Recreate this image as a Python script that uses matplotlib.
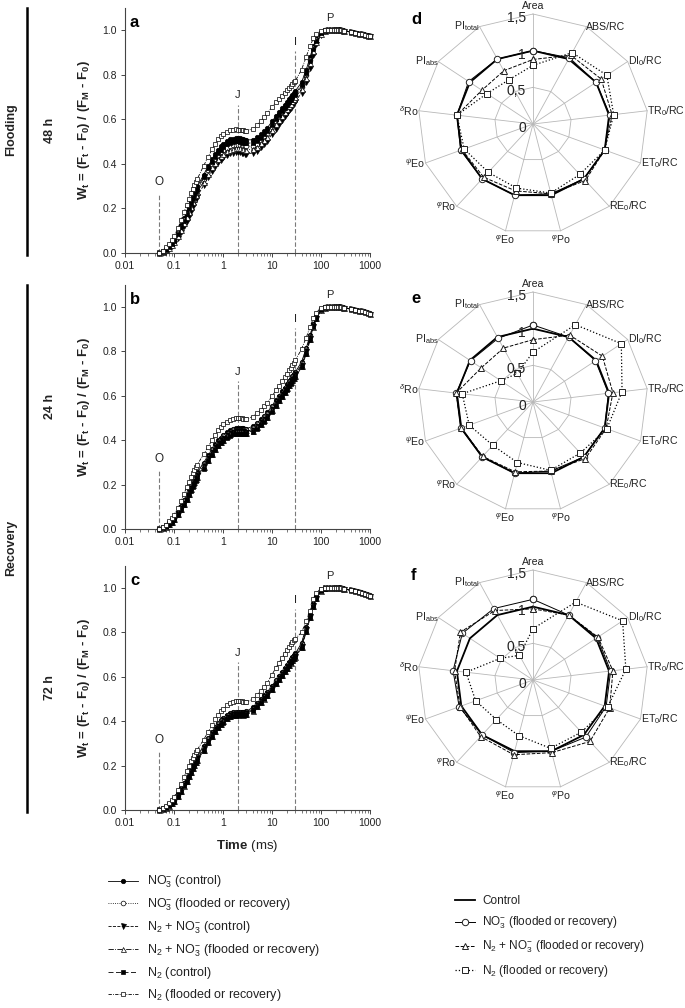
import numpy as np
import matplotlib
matplotlib.use('Agg')
import matplotlib.pyplot as plt
from matplotlib.lines import Line2D
import matplotlib.transforms as mtransforms

plt.rcParams['font.family'] = ['Liberation Sans', 'DejaVu Sans']
plt.rcParams['mathtext.fontset'] = 'custom'
plt.rcParams['mathtext.rm'] = 'Liberation Sans'
plt.rcParams['mathtext.it'] = 'Liberation Sans:italic'
plt.rcParams['mathtext.bf'] = 'Liberation Sans:bold'
plt.rcParams['mathtext.sf'] = 'Liberation Sans'

# ---------------- data: OJIP transients (W_t) ----------------
T = [0.05, 0.06, 0.07, 0.08, 0.09, 0.10, 0.12, 0.14, 0.16, 0.18, 0.20, 0.22, 0.24, 0.26, 0.28, 0.30,
     0.4, 0.5, 0.6, 0.7, 0.8, 0.9, 1.0, 1.2, 1.4, 1.6, 1.8, 2.0, 2.2, 2.4, 2.6, 2.8, 3.0,
     4, 5, 6, 7, 8, 10, 12, 14, 16, 18, 20, 22, 24, 26, 28, 30,
     40, 50, 60, 70, 80, 100, 120, 140, 160, 180, 200, 220, 240, 260, 280, 300,
     400, 500, 600, 700, 800, 900, 1000]

# panel a (flooding 48 h)
a_no3_c = [0.000, 0.006, 0.016, 0.030, 0.045, 0.060, 0.090, 0.124, 0.155, 0.184, 0.210, 0.234, 0.254, 0.271, 0.286, 0.299,
           0.350, 0.390, 0.420, 0.445, 0.464, 0.479, 0.490, 0.502, 0.509, 0.513, 0.515, 0.515, 0.514, 0.512, 0.510, 0.508, 0.507,
           0.508, 0.518, 0.532, 0.547, 0.561, 0.590, 0.614, 0.634, 0.650, 0.665, 0.679, 0.690, 0.700, 0.710, 0.719, 0.727,
           0.765, 0.822, 0.880, 0.928, 0.960, 0.990, 0.998, 1.000, 1.000, 1.000, 1.000, 1.000, 0.999, 0.998, 0.997, 0.996,
           0.992, 0.988, 0.984, 0.980, 0.977, 0.974, 0.971]
a_no3_f = [0.000, 0.006, 0.016, 0.030, 0.044, 0.058, 0.088, 0.118, 0.147, 0.175, 0.200, 0.222, 0.241, 0.257, 0.271, 0.284,
           0.333, 0.370, 0.398, 0.420, 0.437, 0.450, 0.460, 0.472, 0.479, 0.483, 0.485, 0.485, 0.484, 0.482, 0.480, 0.479, 0.478,
           0.481, 0.491, 0.505, 0.520, 0.535, 0.565, 0.590, 0.610, 0.628, 0.643, 0.657, 0.670, 0.680, 0.690, 0.700, 0.708,
           0.746, 0.800, 0.866, 0.920, 0.955, 0.988, 0.998, 1.000, 1.000, 1.000, 1.000, 1.000, 0.999, 0.998, 0.997, 0.996,
           0.992, 0.988, 0.984, 0.980, 0.977, 0.974, 0.971]
a_n2no3_c = [0.000, 0.003, 0.010, 0.020, 0.032, 0.044, 0.068, 0.094, 0.120, 0.145, 0.168, 0.190, 0.210, 0.227, 0.242, 0.255,
             0.303, 0.340, 0.368, 0.390, 0.406, 0.419, 0.429, 0.440, 0.447, 0.450, 0.452, 0.452, 0.451, 0.449, 0.447, 0.446, 0.445,
             0.448, 0.459, 0.474, 0.489, 0.504, 0.533, 0.558, 0.580, 0.598, 0.614, 0.628, 0.641, 0.652, 0.662, 0.672, 0.680,
             0.718, 0.765, 0.830, 0.890, 0.935, 0.978, 0.994, 0.999, 1.000, 1.000, 1.000, 1.000, 0.999, 0.998, 0.997, 0.996,
             0.992, 0.988, 0.984, 0.980, 0.977, 0.974, 0.971]
a_n2no3_f = [0.000, 0.004, 0.012, 0.024, 0.037, 0.050, 0.077, 0.105, 0.133, 0.160, 0.185, 0.207, 0.227, 0.244, 0.259, 0.272,
             0.320, 0.356, 0.384, 0.405, 0.422, 0.435, 0.445, 0.457, 0.464, 0.468, 0.470, 0.470, 0.469, 0.467, 0.465, 0.464, 0.463,
             0.466, 0.477, 0.492, 0.507, 0.522, 0.552, 0.577, 0.598, 0.616, 0.632, 0.646, 0.659, 0.670, 0.680, 0.690, 0.698,
             0.735, 0.785, 0.850, 0.905, 0.945, 0.983, 0.996, 1.000, 1.000, 1.000, 1.000, 1.000, 0.999, 0.998, 0.997, 0.996,
             0.992, 0.988, 0.984, 0.980, 0.977, 0.974, 0.971]
a_n2_c = [0.000, 0.005, 0.013, 0.027, 0.040, 0.055, 0.085, 0.115, 0.145, 0.174, 0.200, 0.222, 0.242, 0.259, 0.275, 0.289,
          0.340, 0.379, 0.409, 0.432, 0.450, 0.464, 0.475, 0.487, 0.494, 0.498, 0.500, 0.500, 0.499, 0.497, 0.495, 0.493, 0.492,
          0.494, 0.503, 0.517, 0.532, 0.546, 0.575, 0.600, 0.620, 0.637, 0.652, 0.665, 0.677, 0.688, 0.698, 0.707, 0.715,
          0.752, 0.805, 0.862, 0.915, 0.950, 0.986, 0.997, 1.000, 1.000, 1.000, 1.000, 1.000, 0.999, 0.998, 0.997, 0.996,
          0.992, 0.988, 0.984, 0.980, 0.977, 0.974, 0.971]
a_n2_f = [0.000, 0.010, 0.025, 0.040, 0.058, 0.075, 0.110, 0.148, 0.183, 0.215, 0.244, 0.268, 0.288, 0.305, 0.320, 0.333,
          0.390, 0.432, 0.465, 0.490, 0.509, 0.523, 0.533, 0.544, 0.550, 0.553, 0.554, 0.553, 0.552, 0.551, 0.550, 0.549, 0.548,
          0.556, 0.574, 0.592, 0.610, 0.626, 0.655, 0.676, 0.692, 0.706, 0.719, 0.730, 0.741, 0.750, 0.758, 0.765, 0.772,
          0.822, 0.880, 0.930, 0.962, 0.982, 0.996, 1.000, 1.000, 1.000, 1.000, 1.000, 1.000, 0.999, 0.998, 0.997, 0.996,
          0.992, 0.988, 0.984, 0.980, 0.977, 0.974, 0.971]

# panel b (recovery 24 h)
b_no3_c = [0.000, 0.005, 0.014, 0.026, 0.038, 0.050, 0.076, 0.103, 0.130, 0.155, 0.178, 0.198, 0.216, 0.231, 0.244, 0.255,
           0.298, 0.332, 0.360, 0.382, 0.399, 0.412, 0.423, 0.437, 0.446, 0.451, 0.454, 0.455, 0.455, 0.454, 0.453, 0.452, 0.452,
           0.462, 0.478, 0.495, 0.510, 0.525, 0.555, 0.580, 0.601, 0.620, 0.637, 0.652, 0.665, 0.677, 0.688, 0.698, 0.707,
           0.752, 0.815, 0.875, 0.925, 0.958, 0.990, 0.998, 1.000, 1.000, 1.000, 1.000, 1.000, 0.999, 0.998, 0.997, 0.996,
           0.992, 0.988, 0.984, 0.980, 0.976, 0.972, 0.968]
b_no3_f = [0.000, 0.005, 0.013, 0.025, 0.036, 0.048, 0.073, 0.099, 0.125, 0.150, 0.172, 0.192, 0.210, 0.225, 0.238, 0.249,
           0.292, 0.326, 0.354, 0.376, 0.393, 0.406, 0.417, 0.430, 0.439, 0.444, 0.447, 0.448, 0.448, 0.447, 0.446, 0.445, 0.445,
           0.455, 0.471, 0.488, 0.503, 0.518, 0.548, 0.573, 0.595, 0.614, 0.631, 0.646, 0.660, 0.672, 0.683, 0.693, 0.702,
           0.748, 0.810, 0.870, 0.921, 0.955, 0.989, 0.998, 1.000, 1.000, 1.000, 1.000, 1.000, 0.999, 0.998, 0.997, 0.996,
           0.992, 0.988, 0.984, 0.980, 0.976, 0.972, 0.968]
b_n2no3_c = [0.000, 0.004, 0.012, 0.023, 0.034, 0.045, 0.069, 0.094, 0.119, 0.143, 0.165, 0.185, 0.203, 0.218, 0.231, 0.242,
             0.285, 0.319, 0.347, 0.369, 0.386, 0.399, 0.410, 0.424, 0.433, 0.438, 0.441, 0.442, 0.442, 0.441, 0.440, 0.439, 0.439,
             0.448, 0.464, 0.481, 0.496, 0.511, 0.541, 0.566, 0.588, 0.607, 0.624, 0.640, 0.654, 0.666, 0.677, 0.687, 0.696,
             0.740, 0.800, 0.862, 0.915, 0.951, 0.987, 0.997, 1.000, 1.000, 1.000, 1.000, 1.000, 0.999, 0.998, 0.997, 0.996,
             0.992, 0.988, 0.984, 0.980, 0.976, 0.972, 0.968]
b_n2no3_f = [0.000, 0.004, 0.011, 0.021, 0.032, 0.043, 0.066, 0.090, 0.114, 0.137, 0.159, 0.178, 0.196, 0.211, 0.224, 0.235,
             0.278, 0.312, 0.340, 0.362, 0.379, 0.392, 0.403, 0.417, 0.427, 0.432, 0.435, 0.436, 0.436, 0.435, 0.434, 0.433, 0.433,
             0.442, 0.458, 0.475, 0.490, 0.505, 0.535, 0.560, 0.582, 0.601, 0.618, 0.634, 0.648, 0.660, 0.671, 0.681, 0.690,
             0.735, 0.795, 0.858, 0.912, 0.949, 0.986, 0.997, 1.000, 1.000, 1.000, 1.000, 1.000, 0.999, 0.998, 0.997, 0.996,
             0.992, 0.988, 0.984, 0.980, 0.976, 0.972, 0.968]
b_n2_c = [0.000, 0.003, 0.010, 0.019, 0.029, 0.040, 0.062, 0.085, 0.108, 0.131, 0.152, 0.171, 0.189, 0.204, 0.217, 0.228,
          0.271, 0.305, 0.333, 0.355, 0.372, 0.386, 0.397, 0.411, 0.421, 0.426, 0.429, 0.430, 0.430, 0.429, 0.428, 0.427, 0.427,
          0.436, 0.452, 0.469, 0.484, 0.499, 0.529, 0.554, 0.576, 0.595, 0.612, 0.628, 0.642, 0.654, 0.665, 0.675, 0.684,
          0.728, 0.788, 0.852, 0.908, 0.946, 0.985, 0.996, 1.000, 1.000, 1.000, 1.000, 1.000, 0.999, 0.998, 0.997, 0.996,
          0.992, 0.988, 0.984, 0.980, 0.976, 0.972, 0.968]
b_n2_f = [0.000, 0.008, 0.020, 0.034, 0.049, 0.064, 0.094, 0.128, 0.158, 0.187, 0.212, 0.233, 0.251, 0.266, 0.279, 0.290,
          0.336, 0.371, 0.401, 0.425, 0.444, 0.459, 0.471, 0.484, 0.492, 0.497, 0.499, 0.500, 0.499, 0.498, 0.497, 0.496, 0.495,
          0.506, 0.522, 0.537, 0.552, 0.567, 0.598, 0.624, 0.646, 0.666, 0.684, 0.700, 0.714, 0.727, 0.739, 0.750, 0.760,
          0.810, 0.862, 0.912, 0.950, 0.975, 0.995, 1.000, 1.000, 1.000, 1.000, 1.000, 1.000, 0.999, 0.998, 0.997, 0.996,
          0.992, 0.988, 0.984, 0.980, 0.976, 0.972, 0.968]

# panel c (recovery 72 h)
c_no3_c = [0.000, 0.005, 0.013, 0.024, 0.035, 0.047, 0.071, 0.097, 0.122, 0.146, 0.168, 0.188, 0.205, 0.220, 0.233, 0.244,
           0.289, 0.324, 0.352, 0.374, 0.391, 0.404, 0.414, 0.428, 0.436, 0.440, 0.442, 0.442, 0.442, 0.442, 0.442, 0.443, 0.444,
           0.462, 0.482, 0.500, 0.516, 0.531, 0.560, 0.584, 0.605, 0.623, 0.639, 0.654, 0.667, 0.678, 0.688, 0.697, 0.705,
           0.752, 0.825, 0.885, 0.930, 0.962, 0.991, 0.999, 1.000, 1.000, 1.000, 1.000, 1.000, 0.999, 0.998, 0.997, 0.996,
           0.990, 0.985, 0.981, 0.977, 0.973, 0.969, 0.965]
c_no3_f = [0.000, 0.005, 0.012, 0.023, 0.034, 0.045, 0.069, 0.094, 0.119, 0.142, 0.164, 0.183, 0.200, 0.215, 0.228, 0.239,
           0.284, 0.319, 0.347, 0.369, 0.386, 0.399, 0.409, 0.423, 0.431, 0.436, 0.438, 0.438, 0.438, 0.438, 0.438, 0.439, 0.440,
           0.457, 0.477, 0.495, 0.511, 0.526, 0.555, 0.579, 0.600, 0.618, 0.634, 0.649, 0.662, 0.673, 0.683, 0.692, 0.700,
           0.746, 0.820, 0.880, 0.926, 0.959, 0.990, 0.999, 1.000, 1.000, 1.000, 1.000, 1.000, 0.999, 0.998, 0.997, 0.996,
           0.990, 0.985, 0.981, 0.977, 0.973, 0.969, 0.965]
c_n2no3_c = [0.000, 0.004, 0.011, 0.021, 0.032, 0.043, 0.066, 0.090, 0.114, 0.137, 0.158, 0.177, 0.194, 0.209, 0.222, 0.233,
             0.278, 0.313, 0.341, 0.363, 0.380, 0.393, 0.404, 0.418, 0.426, 0.431, 0.433, 0.434, 0.434, 0.434, 0.434, 0.435, 0.436,
             0.452, 0.472, 0.490, 0.506, 0.521, 0.550, 0.574, 0.595, 0.613, 0.629, 0.644, 0.657, 0.668, 0.678, 0.687, 0.695,
             0.740, 0.814, 0.875, 0.922, 0.956, 0.989, 0.998, 1.000, 1.000, 1.000, 1.000, 1.000, 0.999, 0.998, 0.997, 0.996,
             0.990, 0.985, 0.981, 0.977, 0.973, 0.969, 0.965]
c_n2no3_f = [0.000, 0.004, 0.010, 0.020, 0.030, 0.041, 0.063, 0.087, 0.110, 0.132, 0.153, 0.172, 0.189, 0.203, 0.216, 0.227,
             0.272, 0.307, 0.335, 0.357, 0.374, 0.388, 0.399, 0.413, 0.422, 0.427, 0.429, 0.430, 0.430, 0.430, 0.430, 0.431, 0.432,
             0.448, 0.468, 0.486, 0.502, 0.517, 0.546, 0.570, 0.591, 0.609, 0.625, 0.640, 0.653, 0.664, 0.674, 0.683, 0.691,
             0.735, 0.808, 0.870, 0.918, 0.953, 0.988, 0.998, 1.000, 1.000, 1.000, 1.000, 1.000, 0.999, 0.998, 0.997, 0.996,
             0.990, 0.985, 0.981, 0.977, 0.973, 0.969, 0.965]
c_n2_c = [0.000, 0.003, 0.009, 0.018, 0.028, 0.038, 0.060, 0.083, 0.106, 0.128, 0.148, 0.167, 0.184, 0.198, 0.211, 0.222,
          0.267, 0.302, 0.330, 0.352, 0.369, 0.383, 0.394, 0.408, 0.417, 0.422, 0.425, 0.426, 0.426, 0.426, 0.426, 0.427, 0.428,
          0.444, 0.464, 0.482, 0.498, 0.513, 0.542, 0.566, 0.587, 0.605, 0.621, 0.636, 0.649, 0.660, 0.670, 0.679, 0.687,
          0.730, 0.802, 0.865, 0.914, 0.950, 0.987, 0.997, 1.000, 1.000, 1.000, 1.000, 1.000, 0.999, 0.998, 0.997, 0.996,
          0.990, 0.985, 0.981, 0.977, 0.973, 0.969, 0.965]
c_n2_f = [0.000, 0.007, 0.018, 0.031, 0.045, 0.059, 0.088, 0.119, 0.148, 0.175, 0.199, 0.219, 0.236, 0.250, 0.262, 0.272,
          0.316, 0.352, 0.383, 0.408, 0.428, 0.444, 0.456, 0.471, 0.480, 0.486, 0.489, 0.490, 0.490, 0.489, 0.488, 0.487, 0.487,
          0.498, 0.518, 0.538, 0.556, 0.573, 0.610, 0.640, 0.664, 0.685, 0.704, 0.720, 0.734, 0.746, 0.756, 0.765, 0.772,
          0.800, 0.850, 0.895, 0.950, 0.978, 0.996, 1.000, 1.000, 1.000, 1.000, 1.000, 1.000, 0.999, 0.998, 0.997, 0.996,
          0.990, 0.985, 0.981, 0.977, 0.973, 0.969, 0.965]

# OJIP step annotations
step_names = ['O', 'J', 'I']
step_times = [0.05, 2.0, 30.0]
step_line_tops = [0.27, 0.665, 0.905]

# ---------------- data: JIP-test radar plots ----------------
params = ['Area', 'ABS/RC', 'DI$_0$/RC', 'TR$_0$/RC', 'ET$_0$/RC', 'RE$_0$/RC',
          r'$^{\varphi}$Po', r'$^{\varphi}$Eo', r'$^{\varphi}$Ro', r'$^{\psi}$Eo', r'$^{\delta}$Ro',
          r'PI$_{\mathrm{abs}}$', r'PI$_{\mathrm{total}}$']
ring_values = [0, 0.5, 1.0, 1.5]
ring_labels = ['0', '0,5', '1', '1,5']

d_control = [1.0] * 13
d_no3 = [1.00, 1.02, 1.00, 1.01, 1.00, 1.00, 0.98, 1.00, 1.00, 1.01, 1.00, 1.02, 1.00]
d_n2no3 = [0.88, 1.06, 1.08, 1.04, 1.00, 1.03, 0.98, 0.94, 0.97, 0.99, 1.00, 0.81, 0.82]
d_n2 = [0.80, 1.10, 1.17, 1.06, 1.00, 0.92, 0.97, 0.90, 0.88, 0.96, 1.00, 0.73, 0.68]

e_control = [1.0] * 13
e_no3 = [1.05, 1.00, 0.99, 0.99, 1.00, 1.00, 0.97, 1.00, 1.00, 1.01, 1.01, 0.99, 0.98]
e_n2no3 = [0.85, 1.03, 1.10, 1.05, 1.02, 1.03, 0.97, 0.98, 0.99, 1.00, 1.01, 0.82, 0.83]
e_n2 = [0.68, 1.19, 1.40, 1.17, 1.03, 0.93, 0.96, 0.85, 0.79, 0.89, 0.93, 0.51, 0.44]

f_control = [1.0] * 13
f_no3 = [1.10, 1.00, 1.02, 1.02, 1.02, 1.04, 1.00, 1.02, 1.00, 1.03, 1.05, 1.12, 1.10]
f_n2no3 = [0.97, 1.00, 1.03, 1.05, 1.07, 1.12, 1.02, 1.05, 1.03, 1.02, 1.03, 1.15, 1.07]
f_n2 = [0.70, 1.20, 1.42, 1.22, 1.04, 0.95, 0.96, 0.78, 0.72, 0.80, 0.88, 0.52, 0.38]

ojip_labels = ['NO$_3^{-}$ (control)', 'NO$_3^{-}$ (flooded or recovery)',
               'N$_2$ + NO$_3^{-}$ (control)', 'N$_2$ + NO$_3^{-}$ (flooded or recovery)',
               'N$_2$ (control)', 'N$_2$ (flooded or recovery)']
radar_labels = ['Control', 'NO$_3^{-}$ (flooded or recovery)',
                'N$_2$ + NO$_3^{-}$ (flooded or recovery)', 'N$_2$ (flooded or recovery)']

# ---------------- figure ----------------
W, H = 685, 1008
fig = plt.figure(figsize=(W / 100, H / 100), dpi=100)


def fx(x):
    return x / W


def fy(y):
    return 1 - y / H


TXT = '#222222'
GRID = '#b8b8b8'

ojip_styles = [
    dict(ls='-', marker='o', mfc='black', mec='black', ms=3.2, lw=0.6),
    dict(ls=':', marker='o', mfc='white', mec='black', ms=3.4, lw=0.6),
    dict(ls='--', marker='v', mfc='black', mec='black', ms=3.6, lw=0.6),
    dict(ls='-.', marker='^', mfc='white', mec='black', ms=3.6, lw=0.6),
    dict(ls=(0, (6, 3)), marker='s', mfc='black', mec='black', ms=3.0, lw=0.6),
    dict(ls=(0, (4, 1.5, 1, 1.5)), marker='s', mfc='white', mec='black', ms=3.2, lw=0.6),
]


def ojip_panel(y1, y0, series, letter):
    # y1: pixel of W=1.0, y0: pixel of W=0
    unit = y0 - y1
    top = y1 - 0.1 * unit
    ax = fig.add_axes([fx(125), fy(y0), fx(370) - fx(125), (y0 - top) / H])
    lines = []
    for s, st in zip(series, ojip_styles):
        ln, = ax.plot(T, s, color='black', mew=0.5, clip_on=False, zorder=3, **st)
        lines.append(ln)
    ax.set_xscale('log')
    ax.set_xlim(0.01, 1000)
    ax.set_ylim(0, 1.1)
    ax.set_yticks([0, 0.2, 0.4, 0.6, 0.8, 1.0])
    ax.set_yticklabels(['0.0', '0.2', '0.4', '0.6', '0.8', '1.0'])
    ax.set_xticks([0.01, 0.1, 1, 10, 100, 1000])
    ax.set_xticklabels(['0.01', '0.1', '1', '10', '100', '1000'])
    for sp in ['top', 'right']:
        ax.spines[sp].set_visible(False)
    for sp in ['left', 'bottom']:
        ax.spines[sp].set_color('#444444')
        ax.spines[sp].set_linewidth(0.8)
    ax.tick_params(axis='both', which='major', labelsize=7.5, labelcolor=TXT, color='#444444',
                   length=3, width=0.7, direction='out', pad=3)
    ax.tick_params(axis='x', which='minor', length=2, width=0.5, color='#444444', direction='out')
    ax.vlines(step_times, 0, step_line_tops, colors='#7a7a7a', linestyles=(0, (4, 2)), lw=0.8, zorder=2)
    for name, t, top_v in zip(step_names, step_times, step_line_tops):
        ax.text(t, top_v + 0.02, name, ha='center', va='bottom', fontsize=8.5 if name == 'O' else 8,
                color=TXT)
    ax.text(150, 1.03, 'P', ha='center', va='bottom', fontsize=8, color=TXT)
    ax.text(0.02, 1.035, letter, transform=ax.get_yaxis_transform(), fontsize=12, fontweight='bold',
            ha='left', va='center', color='black')
    fig.text(fx(84), fy((y0 + top) / 2),
             r'W$_{\mathbf{t}}$ = (F$_{\mathbf{t}}$ - F$_{\mathbf{0}}$) / (F$_{\mathbf{M}}$ - F$_{\mathbf{0}}$)',
             rotation=90, ha='center', va='center', fontsize=9.5, fontweight='bold', color=TXT)
    return ax, lines, (y0 + top) / 2


ax_a, la, ca = ojip_panel(30, 253, [a_no3_c, a_no3_f, a_n2no3_c, a_n2no3_f, a_n2_c, a_n2_f], 'a')
ax_b, lb, cb = ojip_panel(307, 529, [b_no3_c, b_no3_f, b_n2no3_c, b_n2no3_f, b_n2_c, b_n2_f], 'b')
ax_c, lc, cc = ojip_panel(588, 810, [c_no3_c, c_no3_f, c_n2no3_c, c_n2no3_f, c_n2_c, c_n2_f], 'c')
ax_c.set_xlabel(r'$\mathbf{Time}$ (ms)', fontsize=9.5, color=TXT, labelpad=7)

# left side group labels
fig.add_artist(Line2D([fx(27), fx(27)], [fy(8), fy(255)], transform=fig.transFigure, color='black', lw=1.8))
fig.add_artist(Line2D([fx(27), fx(27)], [fy(285), fy(812)], transform=fig.transFigure, color='black', lw=1.8))
fig.text(fx(11), fy(130), 'Flooding', rotation=90, ha='center', va='center', fontsize=9, fontweight='bold', color=TXT)
fig.text(fx(11), fy(548), 'Recovery', rotation=90, ha='center', va='center', fontsize=9, fontweight='bold', color=TXT)
fig.text(fx(50), fy(ca), '48 h', rotation=90, ha='center', va='center', fontsize=9, fontweight='bold', color=TXT)
fig.text(fx(50), fy(cb), '24 h', rotation=90, ha='center', va='center', fontsize=9, fontweight='bold', color=TXT)
fig.text(fx(50), fy(cc), '72 h', rotation=90, ha='center', va='center', fontsize=9, fontweight='bold', color=TXT)

# ---------------- radar panels ----------------
radar_styles = [
    dict(ls='-', lw=1.3, marker=None, zorder=3),
    dict(ls='-', lw=0.7, marker='o', mfc='white', mec='#222222', ms=4.6, mew=0.7, zorder=4),
    dict(ls='--', lw=0.7, marker='^', mfc='white', mec='#222222', ms=4.6, mew=0.7, zorder=4),
    dict(ls=':', lw=0.9, marker='s', mfc='white', mec='#222222', ms=5.0, mew=0.7, zorder=4),
]

angles = np.linspace(0, 2 * np.pi, len(params), endpoint=False)
angles_c = np.append(angles, angles[0])


def radar_panel(yc, series, letter):
    rx, ry = 115, 110
    ax = fig.add_axes([fx(533 - rx), fy(yc + ry), 2 * rx / W, 2 * ry / H], projection='polar')
    ax.set_aspect('auto')
    ax.set_theta_zero_location('N')
    ax.set_theta_direction(-1)
    ax.set_ylim(0, 1.5)
    ax.grid(False)
    ax.set_xticks([])
    ax.set_yticks([])
    ax.spines['polar'].set_visible(False)
    ax.patch.set_visible(False)
    for r in ring_values[1:]:
        ax.plot(angles_c, [r] * len(angles_c), color=GRID, lw=0.6, clip_on=False, zorder=1)
    for a in angles:
        ax.plot([a, a], [0, ring_values[-1]], color=GRID, lw=0.6, clip_on=False, zorder=1)
    lines = []
    for s, st in zip(series, radar_styles):
        vals = list(s) + [s[0]]
        ln, = ax.plot(angles_c, vals, color='black', clip_on=False, **st)
        lines.append(ln)
    for a, lab in zip(angles, params):
        sa, ca_ = np.sin(a), np.cos(a)
        ha = 'center' if abs(sa) < 0.3 else ('left' if sa > 0 else 'right')
        va = 'bottom' if ca_ > 0.95 else ('top' if ca_ < -0.95 else 'center')
        rr = 1.54 if abs(ca_) > 0.95 else 1.5
        ax.text(a, rr, lab, ha=ha, va=va, fontsize=7.6, color=TXT)
    off = mtransforms.offset_copy(ax.transData, fig=fig, x=-7, y=-4, units='dots')
    for rv, rl in zip(ring_values, ring_labels):
        ax.text(0, rv, rl, transform=off, ha='right', va='center', fontsize=10, color=TXT, zorder=5)
    fig.text(fx(533 - 122), fy(yc - 104), letter, fontsize=12, fontweight='bold', ha='left', va='center')
    return ax, lines


ax_d, ld = radar_panel(124, [d_control, d_no3, d_n2no3, d_n2], 'd')
ax_e, le = radar_panel(402, [e_control, e_no3, e_n2no3, e_n2], 'e')
ax_f, lf = radar_panel(680, [f_control, f_no3, f_n2no3, f_n2], 'f')

# ---------------- legends ----------------
fig.legend(handles=lc, labels=ojip_labels, loc='upper left', bbox_to_anchor=(fx(108), fy(874)),
           frameon=False, fontsize=9, handlelength=2.4, handletextpad=0.7, labelspacing=0.5,
           borderpad=0, borderaxespad=0, labelcolor=TXT)
fig.legend(handles=lf, labels=radar_labels, loc='upper left', bbox_to_anchor=(fx(455), fy(895)),
           frameon=False, fontsize=8.5, handlelength=1.7, handletextpad=0.6, labelspacing=0.65,
           borderpad=0, borderaxespad=0, labelcolor=TXT)

fig.savefig('out.png', dpi=100)
